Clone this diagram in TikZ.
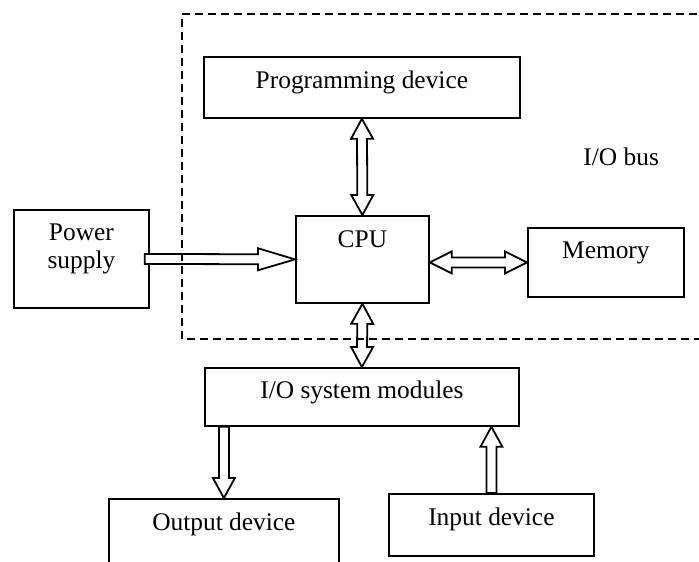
\documentclass[tikz,border=0pt]{standalone}
\usepackage{fontspec}
\setmainfont{Liberation Serif}
\usetikzlibrary{calc}
\tikzset{
  blk/.style={draw, line width=0.9pt, anchor=north west, inner sep=0pt, align=center},
  pipe/.style={draw, fill=white, line width=0.9pt, line join=miter},
  hollow/.style={to path={
    let \p1=($(\tikztotarget)!#1!(\tikztostart)$) in
    ($(\tikztostart)!2.5pt!90:(\tikztotarget)$) -- ($(\p1)!2.5pt!-90:(\tikztostart)$)
    -- ($(\p1)!5.5pt!-90:(\tikztostart)$) -- (\tikztotarget)
    -- ($(\p1)!5.5pt!90:(\tikztostart)$) -- ($(\p1)!2.5pt!90:(\tikztostart)$)
    -- ($(\tikztostart)!2.5pt!-90:(\tikztotarget)$) -- cycle}},
  hollow/.default=10pt,
  hollowboth/.style={to path={
    let \p1=($(\tikztotarget)!#1!(\tikztostart)$),
        \p2=($(\tikztostart)!#1!(\tikztotarget)$) in
    ($(\p2)!2.5pt!90:(\tikztotarget)$) -- ($(\p1)!2.5pt!-90:(\tikztostart)$)
    -- ($(\p1)!5.5pt!-90:(\tikztostart)$) -- (\tikztotarget)
    -- ($(\p1)!5.5pt!90:(\tikztostart)$) -- ($(\p1)!2.5pt!90:(\tikztostart)$)
    -- ($(\p2)!2.5pt!-90:(\tikztotarget)$) -- ($(\p2)!5.5pt!-90:(\tikztotarget)$)
    -- (\tikztostart) -- ($(\p2)!5.5pt!90:(\tikztotarget)$) -- cycle}},
  hollowboth/.default=10pt
}
\begin{document}
\begin{tikzpicture}[x=0.5pt, y=-0.5pt, font=\fontsize{12.7}{14}\selectfont]
  \useasboundingbox (0,0) rectangle (699,561);

  % Blocks
  \node[blk, minimum width=158pt, text height=16pt, text depth=14.5pt] (prog) at (203,56) {Programming device};
  \node[blk, minimum width=66.5pt, text height=16pt, text depth=27.5pt] (cpu) at (295,215) {CPU};
  \node[blk, minimum width=67.5pt, text height=29.5pt, text depth=19.5pt] (psu) at (13,209) {Power\\supply};
  \node[blk, minimum width=78pt, text height=15.5pt, text depth=19pt] (mem) at (527,227) {Memory};
  \node[blk, minimum width=157pt, text height=15.5pt, text depth=13.5pt] (io) at (204,367) {I/O system modules};
  \node[blk, minimum width=115pt, text height=16pt, text depth=24pt] (out) at (108,498) {Output device};
  \node[blk, minimum width=102.5pt, text height=16pt, text depth=15pt] (inp) at (388,493) {Input device};
  \node[anchor=base west, inner sep=0pt] (bus) at (583,165) {I/O bus};

  % Bus arrows
  \path[pipe] ([xshift=-2.5pt]psu.east) to[hollow=18.5pt] (cpu.west);
  \path[pipe] (prog.south) to[hollowboth] (cpu.north);
  \path[pipe] (cpu.south) to[hollowboth] (io.north);
  \path[pipe] (cpu.east |- mem.west) to[hollowboth=11pt] (mem.west);
  \path[pipe] (out.north |- io.south) to[hollow] (out.north);
  \path[pipe] (inp.north) to[hollow] (inp.north |- io.south);

  % Dashed frame
  \draw[dashed, line width=0.9pt, dash pattern=on 4pt off 2.5pt] (710,14) -- (182,14) -- (182,339) -- (710,339);
\end{tikzpicture}
\end{document}
